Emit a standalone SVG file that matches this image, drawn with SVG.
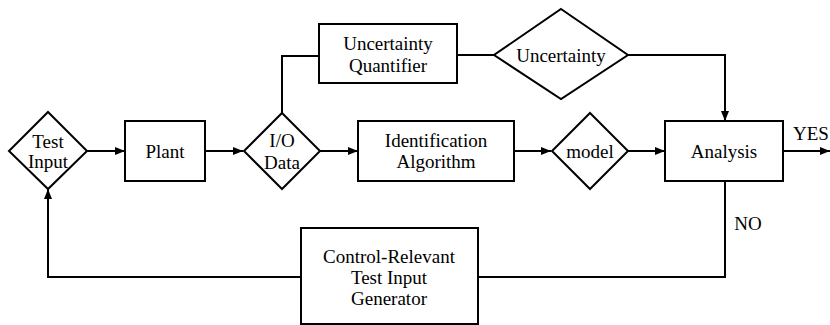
<svg xmlns="http://www.w3.org/2000/svg" width="830" height="325" viewBox="0 0 830 325">
<style>
.s{fill:#fff;stroke:#000;stroke-width:2}
.c{fill:none;stroke:#000;stroke-width:2}
.t{font-family:'Liberation Serif','Times New Roman','DejaVu Serif',serif;font-size:19px;fill:#000;text-anchor:middle;dominant-baseline:central}
</style>
<defs>
<marker id="a" viewBox="0 0 10 8" refX="10" refY="4" markerWidth="10" markerHeight="8" markerUnits="userSpaceOnUse" orient="auto">
<path d="M0,0L10,4L0,8z" fill="#000"/>
</marker>
</defs>
<g id="connectors">
<path class="c" d="M87,151H125" marker-end="url(#a)"/>
<path class="c" d="M205,151H243" marker-end="url(#a)"/>
<path class="c" d="M282,113V56H319"/>
<path class="c" d="M457,55H494"/>
<path class="c" d="M628,55H725V121" marker-end="url(#a)"/>
<path class="c" d="M320,151H358" marker-end="url(#a)"/>
<path class="c" d="M514,151H551" marker-end="url(#a)"/>
<path class="c" d="M628,151H665" marker-end="url(#a)"/>
<path class="c" d="M783,151H830" marker-end="url(#a)"/>
<path class="c" d="M725,181V277H478"/>
<path class="c" d="M300,277H48V189" marker-end="url(#a)"/>
<text class="t" x="811" y="133">YES</text>
<text class="t" x="748" y="223">NO</text>
</g>
<g id="test-input">
<path class="s" d="M48,112L87,151L48,189L9,151z"/>
<text class="t" x="48" y="141">Test</text>
<text class="t" x="48" y="161">Input</text>
</g>
<g id="plant">
<rect class="s" x="125" y="121" width="80" height="60"/>
<text class="t" x="165" y="151">Plant</text>
</g>
<g id="io-data">
<path class="s" d="M282,113L320,151L282,189L244,151z"/>
<text class="t" x="282" y="140">I/O</text>
<text class="t" x="282" y="162">Data</text>
</g>
<g id="uncertainty-quantifier">
<rect class="s" x="319" y="24" width="138" height="59"/>
<text class="t" x="388" y="43">Uncertainty</text>
<text class="t" x="388" y="65">Quantifier</text>
</g>
<g id="uncertainty">
<path class="s" d="M561,9L628,55L561,99L494,55z"/>
<text class="t" x="561" y="55">Uncertainty</text>
</g>
<g id="identification-algorithm">
<rect class="s" x="358" y="121" width="156" height="60"/>
<text class="t" x="436" y="140">Identification</text>
<text class="t" x="436" y="161">Algorithm</text>
</g>
<g id="model">
<path class="s" d="M590,113L628,151L590,189L552,151z"/>
<text class="t" x="590" y="151">model</text>
</g>
<g id="analysis">
<rect class="s" x="665" y="121" width="118" height="60"/>
<text class="t" x="724" y="151">Analysis</text>
</g>
<g id="control-relevant">
<rect class="s" x="301" y="228" width="177" height="96"/>
<text class="t" x="389" y="256">Control-Relevant</text>
<text class="t" x="389" y="277">Test Input</text>
<text class="t" x="389" y="298">Generator</text>
</g>
</svg>
